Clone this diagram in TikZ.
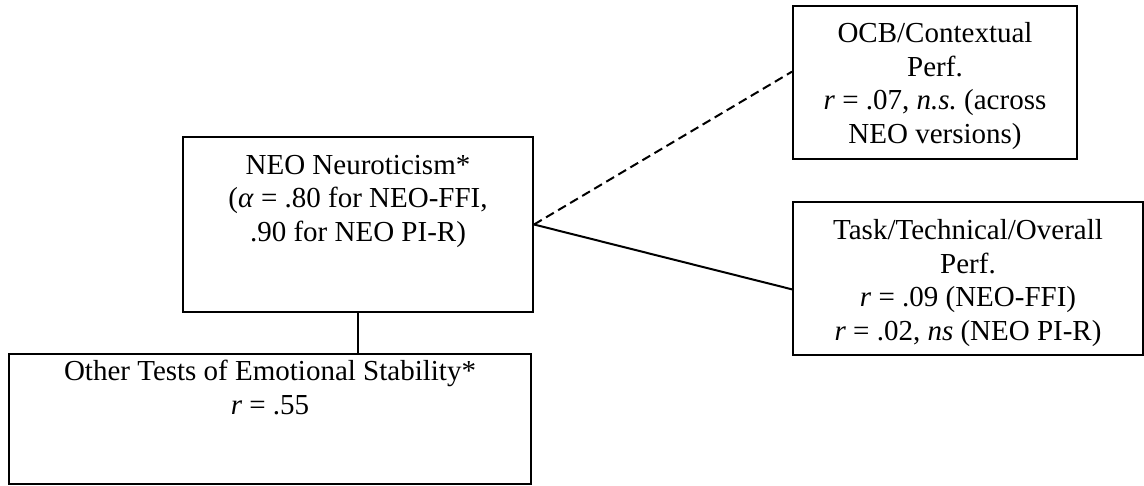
\documentclass[tikz,border=0pt]{standalone}
\usepackage{fontspec}
\setmainfont{Liberation Serif}
\usetikzlibrary{calc}
\frenchspacing
\begin{document}
\begin{tikzpicture}[x=1pt,y=-1pt,
  boxnode/.style={draw,line width=2pt,rectangle,inner sep=0pt},
  txt/.style={anchor=base,align=center,inner sep=0pt,font=\fontsize{29}{33.5}\selectfont},
  link/.style={line width=2pt},
  dashlink/.style={line width=2pt,dash pattern=on 9pt off 5pt}]
\useasboundingbox (0,0) rectangle (1144,485);
\node[boxnode,minimum width=284pt,minimum height=153pt] (ocb) at (935,82.5) {};
\node[boxnode,minimum width=350pt,minimum height=175pt] (neo) at (358,224.5) {};
\node[boxnode,minimum width=350pt,minimum height=153pt] (task) at (968,278.5) {};
\node[boxnode,minimum width=522pt,minimum height=130pt] (other) at (270,419) {};
% base anchor = baseline of last line
\node[txt] (ocbt) at (935,143) {OCB/Contextual\\Perf.\\\textit{r} = .07, \textit{n.s.} (across\\NEO versions)};
\node[txt] (neot) at (358,241) {NEO Neuroticism*\\(\textit{α} = .80 for NEO-FFI,\\.90 for NEO PI-R)};
\node[txt] (taskt) at (968,340) {Task/Technical/Overall\\Perf.\\\textit{r} = .09 (NEO-FFI)\\\textit{r} = .02, \textit{ns} (NEO PI-R)};
\node[txt] (othert) at (270,414) {Other Tests of Emotional Stability*\\\textit{r} = .55};
\coordinate (ocbin) at ($(ocb.north west)!0.43!(ocb.south west)$);
\coordinate (taskin) at ($(task.north west)!0.57!(task.south west)$);
\draw[dashlink] (neo.east) -- (ocbin);
\draw[link] (neo.east) -- (taskin);
\draw[link] (neo.south) -- (neo.south |- other.north);
\end{tikzpicture}
\end{document}
